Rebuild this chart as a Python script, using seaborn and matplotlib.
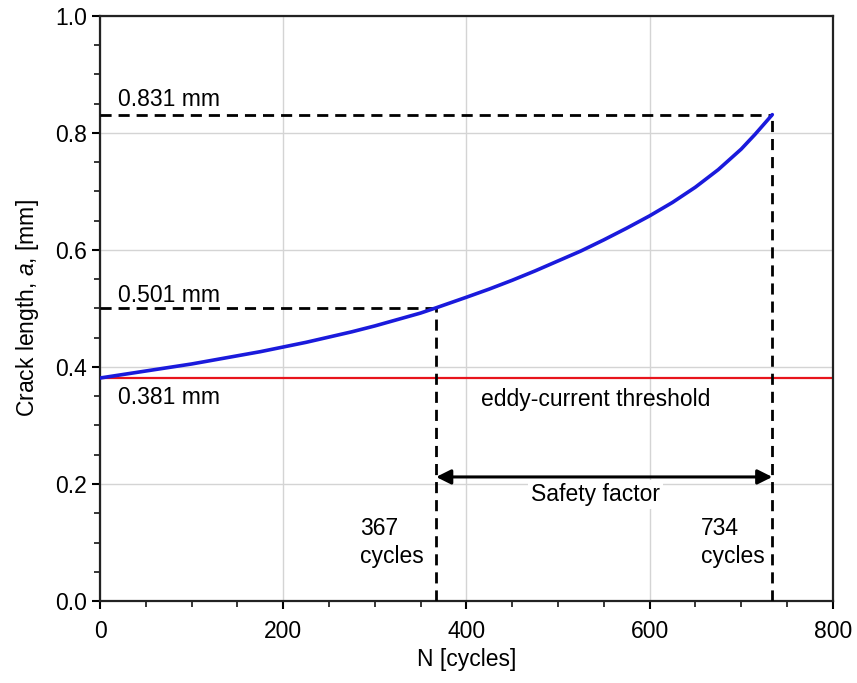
import numpy as np
import pandas as pd
import matplotlib
matplotlib.use("Agg")
import matplotlib.pyplot as plt
from matplotlib.ticker import MultipleLocator, FormatStrFormatter
import seaborn as sns

# crack growth curve
cycles = [0, 25, 50, 75, 100, 125, 150, 175, 200, 225, 250, 275, 300, 325, 350, 367,
          400, 425, 450, 475, 500, 525, 550, 575, 600, 625, 650, 675, 700, 715, 734]
crack = [0.381, 0.387, 0.393, 0.399, 0.405, 0.412, 0.419, 0.426, 0.434, 0.442, 0.451,
         0.460, 0.470, 0.481, 0.492, 0.501, 0.519, 0.533, 0.548, 0.564, 0.581, 0.598,
         0.617, 0.637, 0.658, 0.681, 0.707, 0.737, 0.772, 0.797, 0.831]

threshold = 0.381
n_detect = 367
a_detect = 0.501
n_crit = 734
a_crit = 0.831

sns.set_style("ticks")
plt.rcParams["font.family"] = ["Liberation Sans", "DejaVu Sans"]
plt.rcParams["mathtext.fontset"] = "custom"
plt.rcParams["mathtext.it"] = "Liberation Sans:italic"
plt.rcParams["mathtext.rm"] = "Liberation Sans"
plt.rcParams["text.color"] = "black"
plt.rcParams["axes.labelcolor"] = "black"

df = pd.DataFrame({"N": cycles, "a": crack})

fig = plt.figure(figsize=(8.57, 6.83), dpi=100)
ax = fig.add_axes([0.1167, 0.120, 0.855, 0.857])

ax.grid(True, which="major", color="#d4d4d4", linewidth=1.0)
ax.set_axisbelow(True)

# threshold line
ax.axhline(threshold, color="#e8141c", linewidth=1.6, zorder=2)

# dashed guide lines
dash = dict(color="black", linewidth=2.0, linestyle=(0, (4, 2.5)), zorder=3)
ax.plot([0, n_crit], [a_crit, a_crit], **dash)
ax.plot([n_crit, n_crit], [0, a_crit], **dash)
ax.plot([0, n_detect], [a_detect, a_detect], **dash)
ax.plot([n_detect, n_detect], [0, a_detect], **dash)

sns.lineplot(data=df, x="N", y="a", ax=ax, color="#1a1adc", linewidth=2.6, zorder=4)

# safety factor arrow
ax.annotate("", xy=(n_detect, 0.212), xytext=(n_crit, 0.212),
            arrowprops=dict(arrowstyle="<|-|>", color="black", lw=2.2,
                            mutation_scale=22, shrinkA=0, shrinkB=0), zorder=5)

fs = 16.5
ax.text(541, 0.182, "Safety factor", ha="center", va="center", fontsize=fs,
        bbox=dict(facecolor="white", edgecolor="none", pad=2), zorder=6)
ax.text(541, 0.344, "eddy-current threshold", ha="center", va="center", fontsize=fs, zorder=6)
ax.text(20, 0.856, "0.831 mm", ha="left", va="center", fontsize=fs, zorder=6)
ax.text(20, 0.522, "0.501 mm", ha="left", va="center", fontsize=fs, zorder=6)
ax.text(20, 0.347, "0.381 mm", ha="left", va="center", fontsize=fs, zorder=6)
ax.text(354, 0.10, "367\ncycles", ha="right", va="center", fontsize=fs,
        linespacing=1.3, multialignment="left", zorder=6)
ax.text(726, 0.10, "734\ncycles", ha="right", va="center", fontsize=fs,
        linespacing=1.3, multialignment="left", zorder=6)

ax.set_xlim(0, 800)
ax.set_ylim(0, 1.0)
ax.xaxis.set_major_locator(MultipleLocator(200))
ax.xaxis.set_minor_locator(MultipleLocator(50))
ax.yaxis.set_major_locator(MultipleLocator(0.2))
ax.yaxis.set_minor_locator(MultipleLocator(0.05))
ax.yaxis.set_major_formatter(FormatStrFormatter("%.1f"))
ax.tick_params(which="major", direction="out", length=6, width=1.5, labelsize=16.5, colors="black")
ax.tick_params(which="minor", direction="out", length=4, width=1.3)
ax.tick_params(axis="x", pad=8)

for s in ax.spines.values():
    s.set_visible(True)
    s.set_linewidth(1.6)
    s.set_color("#222222")

ax.set_xlabel("N [cycles]", fontsize=16.5, labelpad=3)
ax.set_ylabel("Crack length, $\\it{a}$, [mm]", fontsize=16.5, labelpad=10)

fig.savefig("out.png", dpi=100)
